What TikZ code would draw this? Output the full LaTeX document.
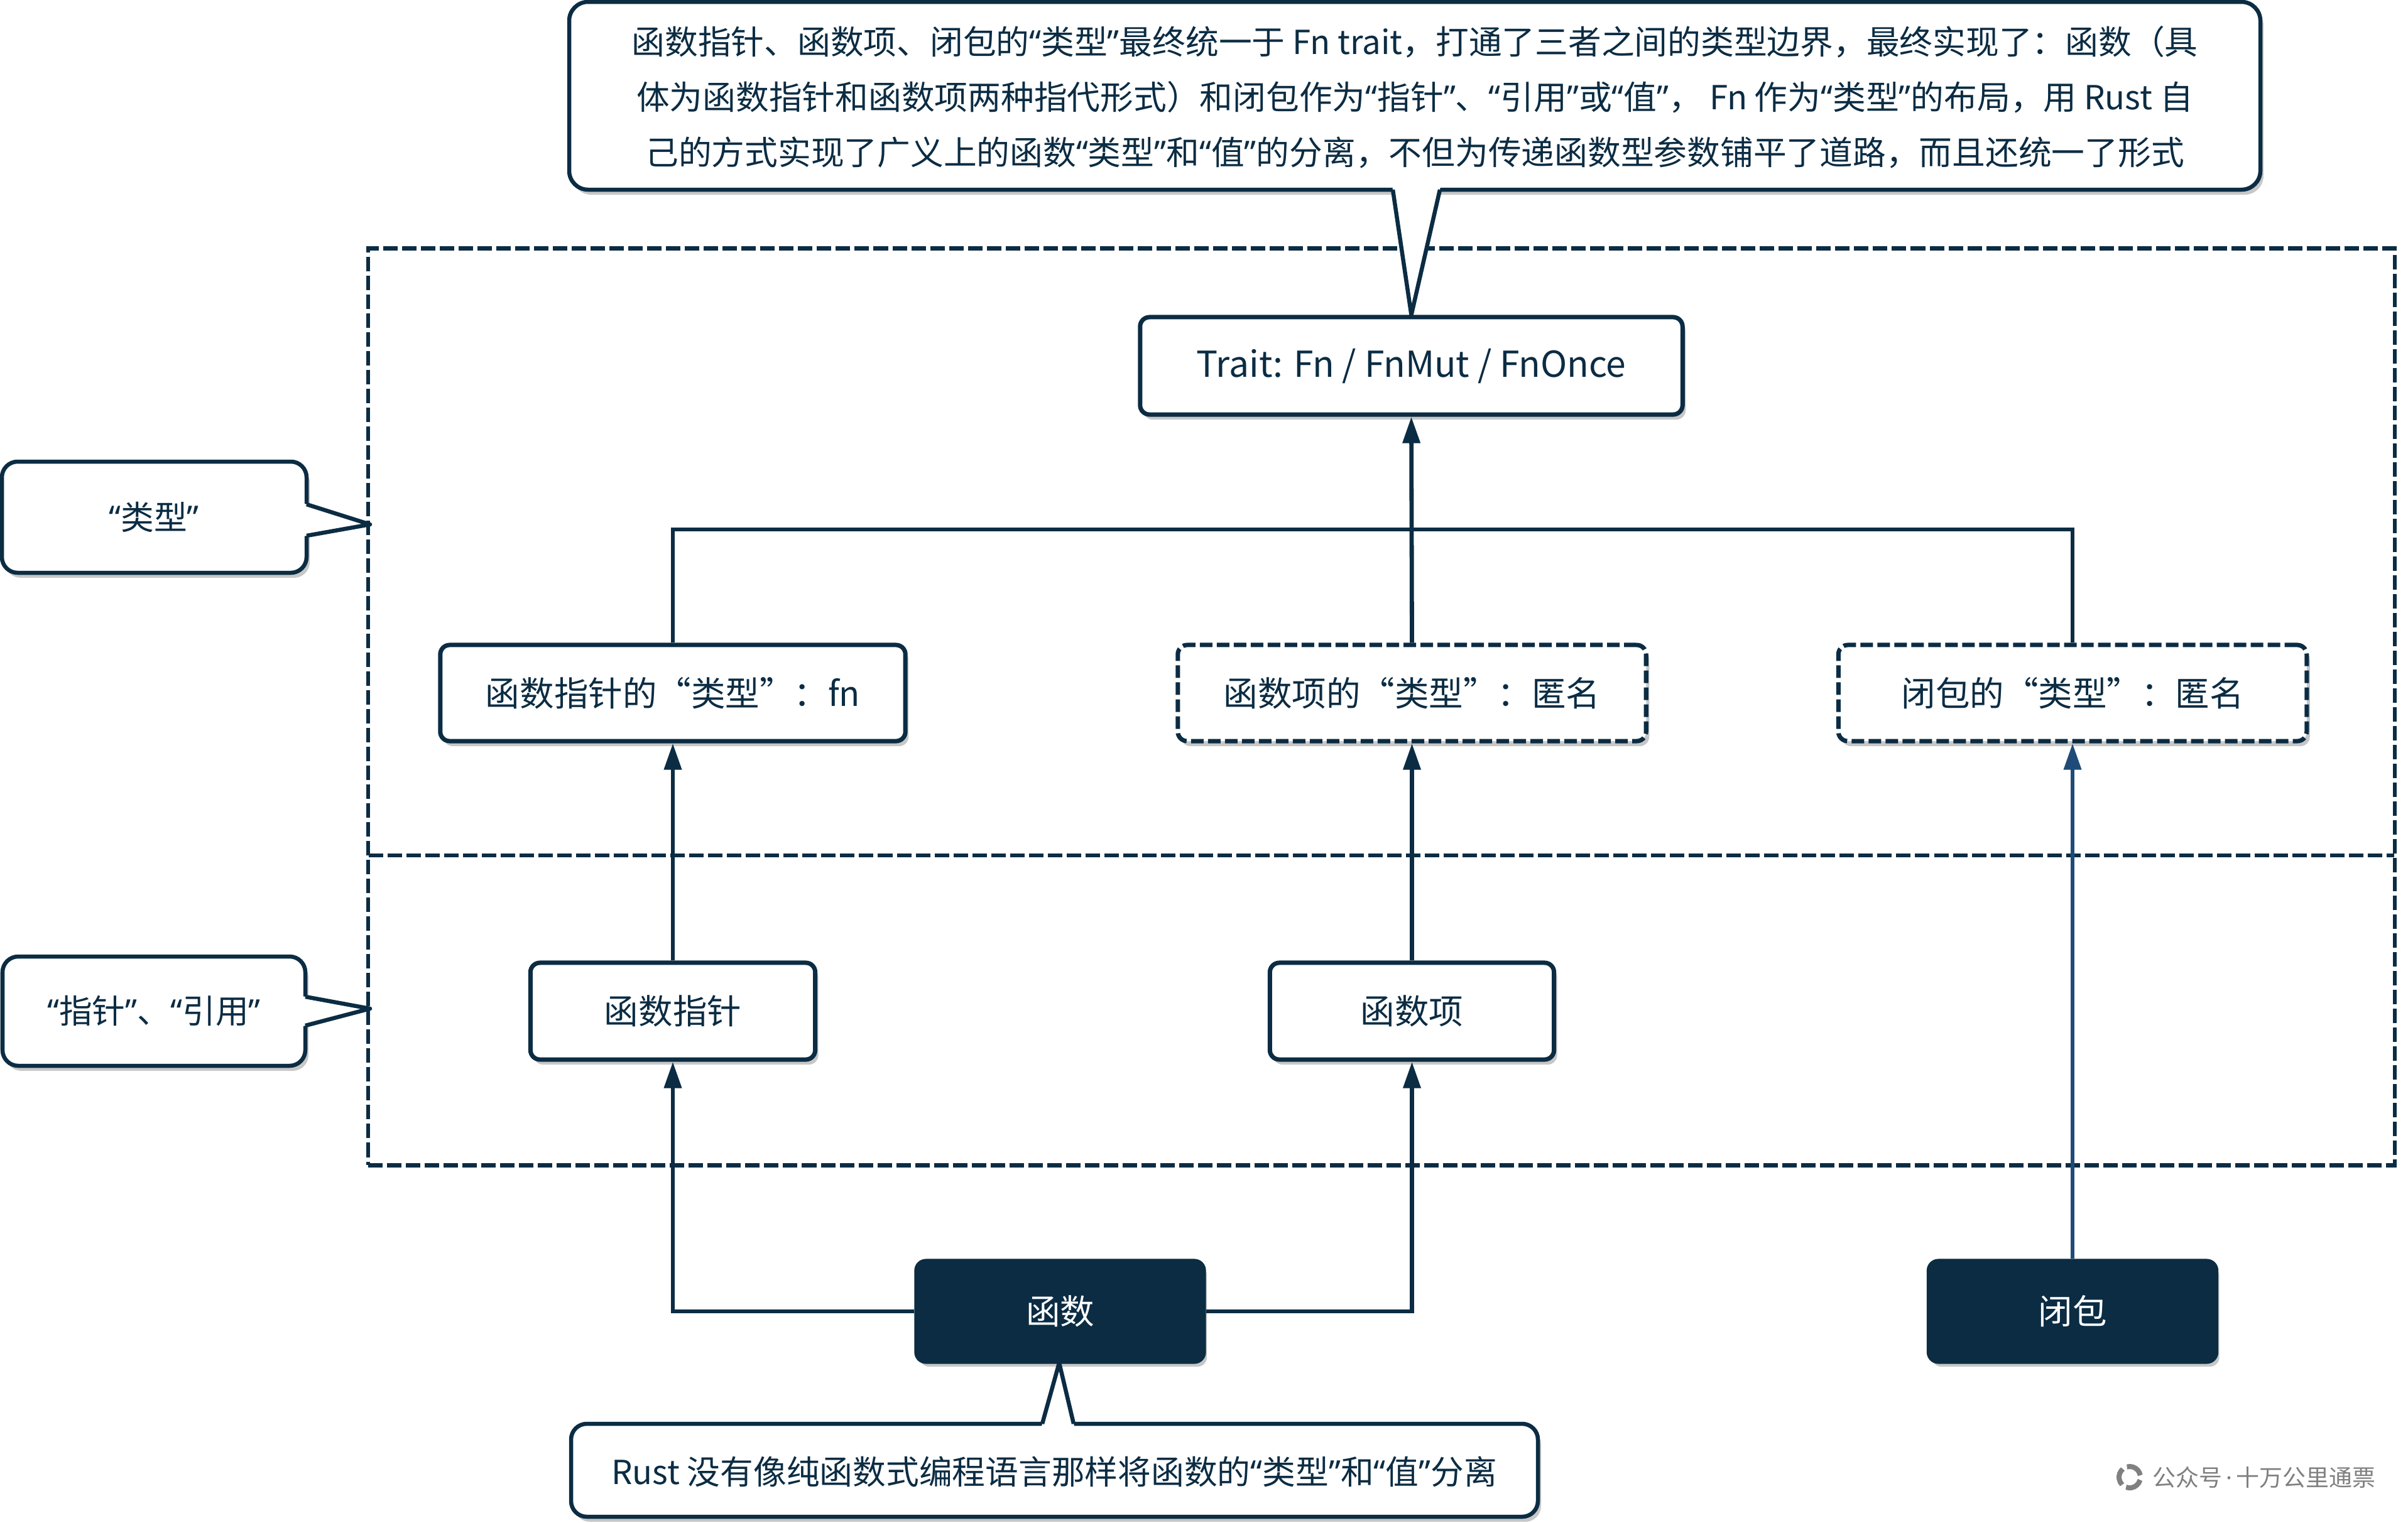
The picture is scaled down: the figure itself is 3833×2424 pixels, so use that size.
\documentclass[tikz,border=0pt]{standalone}
\usepackage{fontspec}
\setmainfont{Noto Sans CJK SC}
\newfontfamily\qf{Noto Sans}
\usetikzlibrary{arrows.meta,shadows}
\definecolor{navy}{HTML}{0B2C43}
\definecolor{bluec}{HTML}{1F4B78}
\definecolor{wmgray}{HTML}{808080}
\newcommand\nq[1]{{\qf “}#1{\qf ”}}
\begin{document}
\begin{tikzpicture}[x=0.01cm,y=-0.01cm,
  shad/.style={drop shadow={shadow xshift=0.05cm,shadow yshift=-0.08cm,opacity=0.22,fill=black}},
  nbox/.style={draw=navy,line width=0.07cm,rounded corners=0.15cm,fill=white,inner sep=0,text=navy,font=\fontsize{15.5pt}{18pt}\selectfont,shad},
  dbox/.style={nbox,dash pattern=on 0.2cm off 0.07cm},
  darkbox/.style={nbox,fill=navy,text=white},
  conn/.style={draw=navy,line width=0.068cm,-{Triangle[length=0.42cm,width=0.27cm]}},
  plainline/.style={draw=navy,line width=0.068cm},
  calloutbody/.style={draw=navy,line width=0.065cm,fill=white,rounded corners=0.3cm,shad},
  ptr/.style={draw=navy,line width=0.065cm,line join=round},
  ctext/.style={text=navy,font=\fontsize{15pt}{25pt}\selectfont,align=center,inner sep=0},
  regionstyle/.style={draw=navy,line width=0.068cm,dash pattern=on 0.23cm off 0.07cm},
]
\useasboundingbox (0,0) rectangle (3833,2424);
\fill[white] (0,0) rectangle (3833,2424);

% outer dashed region
\node[regionstyle,minimum width=32.24cm,minimum height=14.59cm,inner sep=0] (region) at (2199,1125.5) {};
\coordinate (ml) at (587,1362);
\coordinate (mr) at (3811,1362);
\draw[regionstyle] (ml) -- (mr);

% boxes
\node[nbox,minimum width=8.63cm,minimum height=1.55cm,font=\fontsize{16.2pt}{19pt}\selectfont] (trait) at (2246.5,582.5) {Trait: Fn / FnMut / FnOnce};
\node[nbox,minimum width=7.40cm,minimum height=1.53cm] (fptype) at (1071,1103.5) {函数指针的“类型”：fn};
\node[dbox,minimum width=7.45cm,minimum height=1.53cm] (fitype) at (2247.5,1103.5) {函数项的“类型”：匿名};
\node[dbox,minimum width=7.45cm,minimum height=1.53cm] (cltype) at (3299,1103.5) {闭包的“类型”：匿名};
\node[nbox,minimum width=4.53cm,minimum height=1.54cm] (fp) at (1071,1610) {函数指针};
\node[nbox,minimum width=4.52cm,minimum height=1.54cm] (fi) at (2247.5,1610) {函数项};
\node[darkbox,minimum width=4.57cm,minimum height=1.60cm] (fn) at (1687.5,2088) {函数};
\node[darkbox,minimum width=4.57cm,minimum height=1.60cm] (cl) at (3299,2088) {闭包};

% connectors
\coordinate (j) at (2247.5,843);
\draw[plainline] (fptype.north) |- (j);
\draw[plainline] (cltype.north) |- (j);
\draw[conn] (fitype.north) -- (trait.south);
\draw[conn] (fp.north) -- (fptype.south);
\draw[conn] (fi.north) -- (fitype.south);
\draw[conn] (fn.west) -| (fp.south);
\draw[conn] (fn.east) -| (fi.south);
\draw[conn,draw=bluec,fill=bluec] (cl.north) -- (cltype.south);

% top callout
\draw[calloutbody] (906,3) rectangle (3598,302);
\fill[white] (2216.1,296) -- (trait.north) -- (2293.3,296) -- cycle;
\draw[ptr] (2217,302) -- (trait.north) -- (2292,302);
\node[ctext] (topnote) at (2252,155) {函数指针、函数项、闭包的\nq{类型}最终统一于 Fn trait，打通了三者之间的类型边界，最终实现了：函数（具\\体为函数指针和函数项两种指代形式）和闭包作为\nq{指针}、\nq{引用}或\nq{值}， Fn 作为\nq{类型}的布局，用 Rust 自\\己的方式实现了广义上的函数\nq{类型}和\nq{值}的分离，不但为传递函数型参数铺平了道路，而且还统一了形式};

% left callout A
\coordinate (tipA) at (589,835);
\draw[calloutbody,rounded corners=0.25cm] (3,735) rectangle (488,912);
\fill[white] (482,801.1) -- (tipA) -- (482,854.1) -- cycle;
\draw[ptr] (488,803) -- (tipA) -- (488,853);
\node[ctext] (calloutA) at (245,823) {\nq{类型}};

% left callout B
\coordinate (tipB) at (589,1606);
\draw[calloutbody,rounded corners=0.25cm] (4,1523) rectangle (486,1697);
\fill[white] (480,1585.9) -- (tipB) -- (480,1634.6) -- cycle;
\draw[ptr] (486,1587) -- (tipB) -- (486,1633);
\node[ctext] (calloutB) at (245,1610) {\nq{指针}、\nq{引用}};

% bottom callout
\coordinate (tipC) at (1686,2170);
\draw[calloutbody,rounded corners=0.25cm] (909,2267) rectangle (2448,2415);
\fill[white] (1657.4,2273) -- (tipC) -- (1710.5,2273) -- cycle;
\draw[ptr] (1659,2267) -- (tipC) -- (1709,2267);
\node[ctext] (bottomnote) at (1678,2343) {Rust 没有像纯函数式编程语言那样将函数的\nq{类型}和\nq{值}分离};

% watermark
\coordinate (logo) at (3390,2352);
\foreach \a in {10,130,250}
  \draw[wmgray,line width=0.08cm] (logo) ++(\a:0.17cm) arc[start angle=\a,end angle=\a+95,radius=0.17cm];
\node[anchor=west,inner sep=0,text=wmgray,font=\fontsize{10.5pt}{12pt}\selectfont] (wmtext) at (3426,2352) {公众号{\qf\,·\,}十万公里通票};
\end{tikzpicture}
\end{document}
